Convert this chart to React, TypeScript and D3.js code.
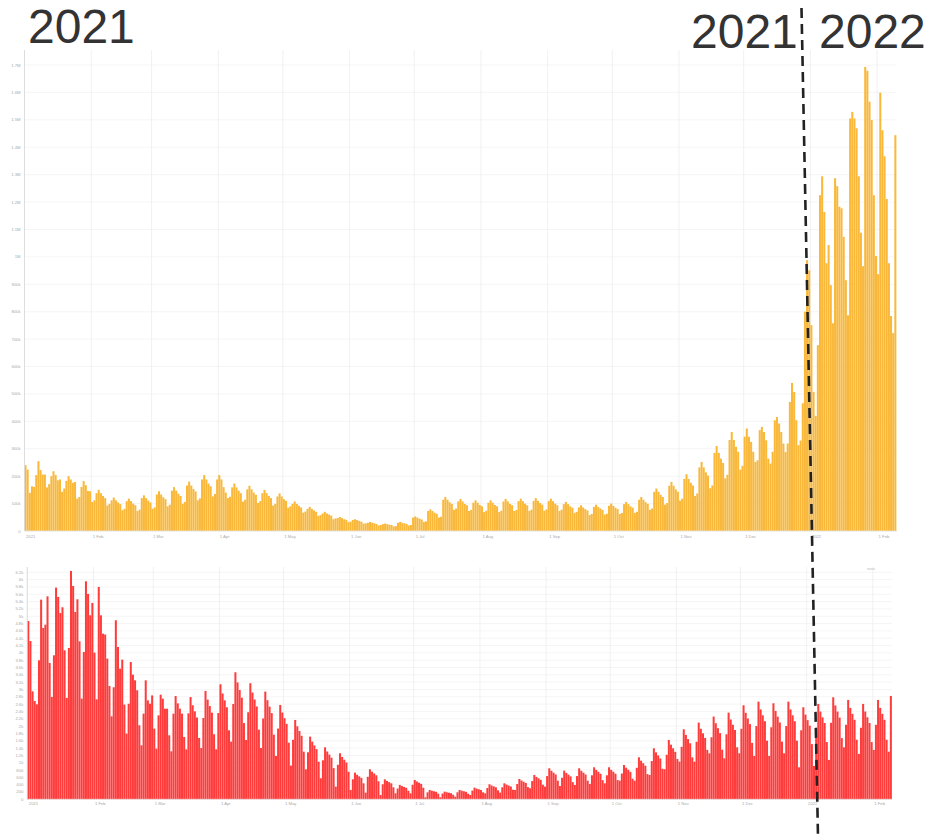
import React from 'react';
import * as d3 from 'd3';

const START = Date.UTC(2021, 0, 1);
const DAY = 86400000;

// daily new cases, thousands (1 Jan 2021 .. 9 Feb 2022)
const dailyCasesK = [
  240,224,139,163,161,204,
  255,222,206,206,159,171,200,
  218,204,185,188,143,155,183,
  200,188,176,179,118,124,161,
  182,167,146,145,106,112,138,
  150,138,128,120,93,99,112,
  122,112,104,98,76,81,109,
  118,109,100,94,73,78,120,
  130,120,111,104,81,86,133,
  145,133,123,116,90,96,147,
  160,147,136,128,99,106,166,
  180,166,153,144,112,119,188,
  204,188,173,163,126,135,188,
  204,188,160,140,120,125,159,
  173,159,147,138,107,114,152,
  165,152,140,132,102,109,138,
  150,138,128,120,93,99,126,
  137,126,116,110,85,90,99,
  108,99,92,86,67,71,81,
  88,81,75,70,55,58,64,
  70,64,60,56,43,46,47,
  51,47,43,41,32,34,40,
  43,40,37,34,27,28,30,
  33,30,28,26,20,22,25,
  27,25,23,22,17,18,30,
  33,30,28,26,20,22,49,
  53,49,45,42,33,35,73,
  79,73,67,63,49,52,114,
  124,114,105,99,77,82,108,
  117,108,99,94,73,77,103,
  112,103,95,90,69,74,103,
  112,103,95,90,69,74,108,
  117,108,99,94,73,77,109,
  118,109,100,94,73,78,110,
  120,110,102,96,74,79,109,
  118,109,100,94,73,78,98,
  106,98,90,85,66,70,86,
  94,86,80,75,58,62,88,
  96,88,82,77,60,63,92,
  100,92,85,80,62,66,98,
  106,98,90,85,66,70,114,
  124,114,105,99,77,82,143,
  155,143,132,124,96,102,165,
  179,165,152,143,111,118,190,
  207,190,176,166,128,137,232,
  252,232,214,202,156,166,285,
  310,285,264,248,192,205,332,
  361,332,307,289,224,238,344,
  374,344,325,289,252,258,368,
  380,361,331,264,246,289,404,
  416,392,361,319,288,319,471,
  540,507,404,313,330,466,
  800,988,951,751,507,420,678,
  1225,1294,1164,977,1043,897,758,
  1287,1258,1183,1177,1073,915,787,
  1505,1529,1505,1469,1294,1088,966,
  1693,1679,1566,1499,1225,1003,937,
  1599,1462,1367,1211,977,784,722,
  1444,
];

// daily deaths (1 Jan 2021 .. 9 Feb 2022)
const dailyDeaths = [
  4871,4324,2950,2686,2594,3796,5453,4679,4770,5544,3723,2795,3933,
  5782,5527,5090,5245,4070,2768,4133,6237,5827,5117,5463,4315,2750,
  4024,5955,5609,5026,5363,4006,2731,5800,5026,4525,4500,3842,3096,
  2267,3060,4890,4160,3568,3815,2586,1794,2610,3750,3404,3250,2979,
  2022,1475,2340,3250,2702,2611,2838,1930,1384,2293,2857,2748,2475,
  2475,1748,1311,2339,2820,2620,2475,2339,1703,1366,2348,2793,
  2570,2402,2234,1676,1400,2220,2960,
  2723,2546,2368,1776,1366,2357,3142,
  2891,2702,2514,1885,1575,2603,3470,
  3192,2984,2776,2082,1620,2378,3170,
  2916,2726,2536,1902,1400,2207,2942,
  2707,2530,2354,1765,1184,1933,2577,
  2371,2216,2062,1546,920,1625,2167,
  1994,1864,1734,1300,820,1284,1712,
  1575,1472,1370,1027,574,1065,1420,
  1306,1221,1136,852,346,943,1257,
  1156,1081,1006,754,255,547,729,
  671,627,583,437,182,615,820,
  754,705,656,492,118,410,546,
  502,470,437,328,164,294,392,
  361,337,314,235,164,396,528,
  486,454,422,317,55,191,255,
  235,219,204,153,55,157,209,
  192,180,167,125,73,191,255,
  235,219,204,153,118,239,319,
  293,274,255,191,164,308,410,
  377,353,328,246,182,328,437,
  402,376,350,262,255,417,556,
  512,478,445,334,300,499,665,
  612,572,532,399,346,635,847,
  779,728,678,508,364,587,783,
  720,673,626,470,392,635,847,
  779,728,678,508,419,656,874,
  804,752,699,524,437,656,874,
  804,752,699,524,510,704,938,
  863,807,750,563,510,860,1147,
  1055,986,918,688,665,1045,1393,
  1282,1198,1114,836,820,1216,1621,
  1491,1394,1297,1100,1029,1434,1912,
  1759,1644,1530,1147,1029,1571,2095,
  1927,1802,1676,1350,1257,1694,2259,
  2078,1943,1807,1355,1120,1776,2368,
  2179,2036,1894,1421,1257,1926,2568,
  2363,2208,2054,1541,1184,2001,2668,
  2455,2294,2134,1601,1184,1967,2623,
  2413,2256,2098,1574,1257,2001,2668,
  2455,2294,2134,1601,874,1886,2514,
  2313,2162,2011,1508,911,1954,2605,
  2397,2240,2084,1563,1075,2090,2787,
  2564,2397,2230,1672,1420,2036,2714,
  2497,2334,2171,1628,1239,1954,2605,
  2397,2240,2084,1563,1348,2036,2714,
  2497,2334,2171,1628,1302,2823,
];

const caseTickValues = [0,100000,200000,300000,400000,500000,600000,700000,800000,900000,1000000,1100000,1200000,1300000,1400000,1500000,1600000,1700000];
const caseTickLabels = ['0','100k','200k','300k','400k','500k','600k','700k','800k','900k','1M','1.1M','1.2M','1.3M','1.4M','1.5M','1.6M','1.7M'];
const deathTickValues = [0,200,400,600,800,1000,1200,1400,1600,1800,2000,2200,2400,2600,2800,3000,3200,3400,3600,3800,4000,4200,4400,4600,4800,5000,5200,5400,5600,5800,6000,6200];
const deathTickLabels = ['0','200','400','600','800','1k','1.2k','1.4k','1.6k','1.8k','2k','2.2k','2.4k','2.6k','2.8k','3k','3.2k','3.4k','3.6k','3.8k','4k','4.2k','4.4k','4.6k','4.8k','5k','5.2k','5.4k','5.6k','5.8k','6k','6.2k'];
const monthTickDates = [
  [2021,0],[2021,1],[2021,2],[2021,3],[2021,4],[2021,5],[2021,6],[2021,7],[2021,8],[2021,9],[2021,10],[2021,11],[2022,0],[2022,1],
];
const monthTickLabels = ['2021','1 Feb','1 Mar','1 Apr','1 May','1 Jun','1 Jul','1 Aug','1 Sep','1 Oct','1 Nov','1 Dec','2022','1 Feb'];
const yearLabels = ['2021','2021','2022'];

const YELLOW = '#f9b83a';
const RED = '#ff3c3c';
const FONT = 'Liberation Sans, Arial, sans-serif';

type PanelProps = {
  values: number[];
  scale: number;
  x0: number; x1: number;
  yTop: number; yZero: number; yMaxPix: number; maxVal: number;
  color: string;
  tickValues: number[]; tickLabels: string[];
  labelY: number;
};

function Panel(p: PanelProps) {
  const n = p.values.length;
  const x = d3.scaleUtc().domain([new Date(START), new Date(START + n * DAY)]).range([p.x0, p.x1]);
  const y = d3.scaleLinear().domain([0, p.maxVal]).range([p.yZero, p.yMaxPix]);
  const months = monthTickDates.map(([yy, mm]) => new Date(Date.UTC(yy, mm, 1)));
  return (
    <g>
      {p.tickValues.map((v, i) => (
        <g key={'h' + i}>
          <line x1={p.x0} x2={p.x1} y1={y(v)} y2={y(v)} stroke="#f2f2f2" strokeWidth={0.8} />
          <text x={p.x0 - 4} y={y(v) + 1.5} fontSize={4.2} fill="#aaa" textAnchor="end" fontFamily={FONT}>{p.tickLabels[i]}</text>
        </g>
      ))}
      {months.map((d, i) => (
        <g key={'v' + i}>
          <line x1={x(d)} x2={x(d)} y1={p.yTop} y2={p.yZero} stroke="#eeeeee" strokeWidth={0.8} />
          <text x={x(d) + 1.5} y={p.labelY} fontSize={4.2} fill="#aaa" fontFamily={FONT}>{monthTickLabels[i]}</text>
        </g>
      ))}
      {p.values.map((v, i) => {
        const xa = x(new Date(START + i * DAY));
        const xb = x(new Date(START + (i + 1) * DAY));
        const yy = y(v * p.scale);
        return <rect key={i} x={xa} y={yy} width={Math.max(0.5, xb - xa - 0.12)} height={p.yZero - yy} fill={p.color} />;
      })}
      <line x1={p.x0} x2={p.x0} y1={p.yTop} y2={p.yZero} stroke="#d8d8d8" strokeWidth={0.8} />
      <line x1={p.x0} x2={p.x1} y1={p.yZero} y2={p.yZero} stroke="#e4e4e4" strokeWidth={0.8} />
    </g>
  );
}

export default function App() {
  return (
    <svg width={940} height={837} style={{ position: 'absolute', left: 0, top: 0, background: '#fff' }}>
      <rect x={0} y={0} width={940} height={837} fill="#fff" />
      <Panel values={dailyCasesK} scale={1000} x0={24.5} x1={896.5} yTop={50} yZero={531} yMaxPix={65} maxVal={1700000}
        color={YELLOW} tickValues={caseTickValues} tickLabels={caseTickLabels} labelY={538} />
      <Panel values={dailyDeaths} scale={1} x0={27.3} x1={892} yTop={567} yZero={799.3} yMaxPix={572.3} maxVal={6200}
        color={RED} tickValues={deathTickValues} tickLabels={deathTickLabels} labelY={805} />
      <line x1={867} x2={875} y1={569} y2={569} stroke="#bbb" strokeWidth={0.8} />
      <text x={28} y={43} fontSize={48} fill="#333" fontFamily={FONT}>{yearLabels[0]}</text>
      <text x={691} y={48} fontSize={48} fill="#333" fontFamily={FONT}>{yearLabels[1]}</text>
      <text x={819} y={48} fontSize={48} fill="#333" fontFamily={FONT}>{yearLabels[2]}</text>
      <line x1={801.5} y1={8} x2={818} y2={837} stroke="#222" strokeWidth={2.6} strokeDasharray="10 6" />
    </svg>
  );
}
